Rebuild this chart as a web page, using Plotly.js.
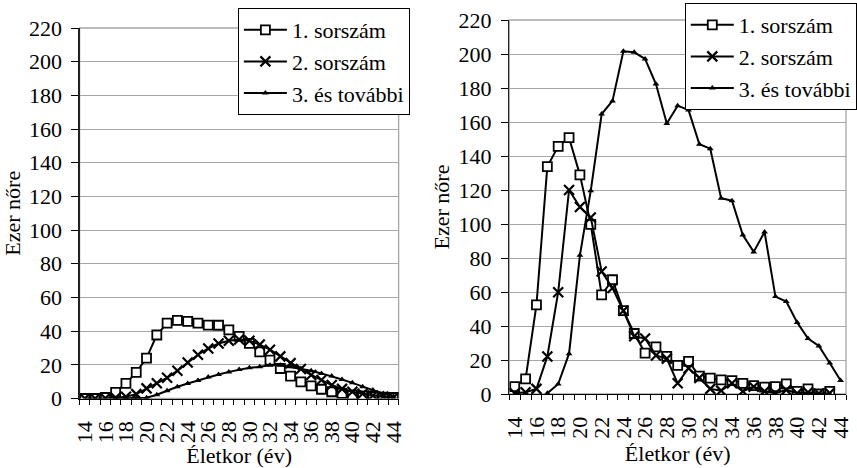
<!DOCTYPE html>
<html>
<head>
<meta charset="utf-8">
<script src="https://cdn.plot.ly/plotly-3.0.1.min.js"></script>
<style>
html,body{margin:0;padding:0;background:#fff;}
#chart{width:857px;height:468px;}
</style>
</head>
<body>
<div id="chart"></div>
<script>
// Ages (x categories)
var ages = [14,15,16,17,18,19,20,21,22,23,24,25,26,27,28,29,30,31,32,33,34,35,36,37,38,39,40,41,42,43,44];
var tickAges = [14,16,18,20,22,24,26,28,30,32,34,36,38,40,42,44];
var seriesNames = ['1. sorszám', '2. sorszám', '3. és további'];

// Left chart
var leftFirst  = [0,0,0.6,3.6,9,15.5,24,37.7,44.8,46.4,45.8,44.8,43.6,43.5,40.8,36.9,32.7,27.7,22.8,17.8,13.3,9.9,7.5,5.5,4,3,2.2,1.6,1.2,0.8,0.6];
var leftSecond = [0,0,0.2,0.5,1,2.6,6,9,12.3,16.5,21.4,26,29.7,32.7,34.3,35,34.3,32,29,25,21,17.5,14,11,8,5.7,4,2.8,1.8,1,0.6];
var leftThird  = [null,null,null,0,0,0.2,0.4,2.2,4.6,7,8.9,10.7,12.7,14.3,15.8,17.2,18.2,18.8,19.8,19.8,18.8,17.8,16.5,14.9,13.3,11.3,9.3,7,5,3,1.4];

// Right chart
var rightFirst  = [4.3,8.9,52.4,133.8,145.7,150.8,128.9,99.8,58.3,67.2,49,35.6,24.1,27.7,22.1,16.8,19.2,10.5,9.3,8.3,7.9,6.3,4.9,4,4.3,5.9,1.6,3,0,1.6,null];
var rightSecond = [0.4,1,3,22.1,59.9,120,110,103.8,72.1,62.3,49,34,32.6,22.7,20.8,6.3,15.2,9.5,3,2,6.3,1.6,4.3,1.6,0.4,2.4,0.4,1,0.3,0.5,null];
var rightThird  = [null,null,null,0.4,5.9,23.7,81.6,119.6,164.7,172.4,201.6,201,197.1,182.3,159.1,169.6,167,146.9,144.3,115.2,113.7,93.5,83.6,95.3,57.3,54.4,42.1,32.6,28.3,18.2,7.9];

var yTitle = 'Ezer nőre';
var xTitle = 'Életkor (év)';

var FONT = '"Liberation Serif", "Times New Roman", serif';

var markerStyles = [
  {symbol:'square', size:9, color:'#ffffff', line:{color:'#000000', width:1.8}},
  {symbol:'x-thin', size:10, color:'#000000', line:{color:'#000000', width:2.2}},
  {symbol:'triangle-up', size:6, color:'#000000', line:{color:'#000000', width:0}}
];

function mk(y, i, xa, ya, leg){
  return {
    x: ages, y: y, type:'scatter', mode:'lines+markers',
    name: seriesNames[i], xaxis: xa, yaxis: ya, legend: leg,
    legendgroup: leg + i,
    line:{color:'#000000', width:2},
    marker: markerStyles[i],
    connectgaps:false,
    hoverinfo:'x+y'
  };
}

var data = [
  mk(leftFirst,0,'x','y','legend'),
  mk(leftSecond,1,'x','y','legend'),
  mk(leftThird,2,'x','y','legend'),
  mk(rightFirst,0,'x2','y2','legend2'),
  mk(rightSecond,1,'x2','y2','legend2'),
  mk(rightThird,2,'x2','y2','legend2')
];

var W = 857, H = 468;
function xaxisDef(d0, d1, anchor){
  return {
    domain:[d0/W, d1/W], anchor: anchor,
    range:[13.5,44.5], tickmode:'array', tickvals: tickAges, ticktext: tickAges.map(String),
    tickangle:-90, ticks:'', showgrid:false, zeroline:false,
    showline:true, linecolor:'#000000', linewidth:1,
    minor:{tick0:13.5, dtick:1, ticks:'outside', ticklen:5, tickcolor:'#000000', tickwidth:1, showgrid:false},
    ticklabelstandoff: 13,
    tickfont:{family:FONT, size:22, color:'#000000'},
    title:{text:xTitle, font:{family:FONT, size:22, color:'#000000'}, standoff:7},
    fixedrange:true
  };
}
function yaxisDef(top, bottom, anchor){
  return {
    domain:[(H-bottom)/H, (H-top)/H], anchor: anchor,
    range:[0,220], tickmode:'linear', tick0:0, dtick:20,
    ticks:'outside', ticklen:7, tickcolor:'#000000', tickwidth:1,
    showgrid:true, gridcolor:'#a6a6a6', gridwidth:1, zeroline:false,
    showline:true, linecolor:'#222222', linewidth:1.3,
    ticklabelstandoff: 5,
    tickfont:{family:FONT, size:22, color:'#000000'},
    title:{text:yTitle, font:{family:FONT, size:22, color:'#000000'}, standoff:3},
    fixedrange:true
  };
}

var legendBase = {
  xanchor:'left', yanchor:'top', bgcolor:'#ffffff', bordercolor:'#000000', borderwidth:1,
  font:{family:FONT, size:22, color:'#000000'}, traceorder:'grouped', tracegroupgap:0,
  itemwidth:43
};

var layout = {
  width:W, height:H, margin:{l:0,r:0,t:0,b:0},
  paper_bgcolor:'#ffffff', plot_bgcolor:'#ffffff',
  font:{family:FONT, size:22, color:'#000000'},
  showlegend:true,
  xaxis: xaxisDef(80, 400.5, 'y'),
  yaxis: yaxisDef(28, 398.5, 'x'),
  xaxis2: xaxisDef(511.7, 850, 'y2'),
  yaxis2: yaxisDef(20, 394, 'x2'),
  legend: Object.assign({}, legendBase, {x:239/W, y:1-8/H}),
  legend2: Object.assign({}, legendBase, {x:688/W, y:1-3/H}),
  shapes:[
    {type:'rect', xref:'x domain', yref:'y domain', x0:0, x1:1, y0:0, y1:1, line:{color:'#a6a6a6', width:1.3}, layer:'below'},
    {type:'rect', xref:'x2 domain', yref:'y2 domain', x0:0, x1:1, y0:0, y1:1, line:{color:'#a6a6a6', width:1.3}, layer:'below'}
  ]
};

Plotly.newPlot('chart', data, layout, {displayModeBar:false, staticPlot:true});
</script>
</body>
</html>
